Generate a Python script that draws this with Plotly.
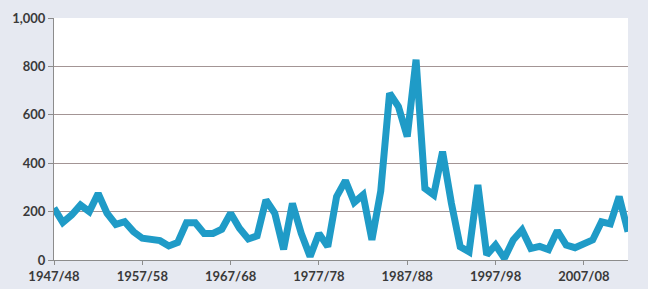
import plotly.graph_objects as go

years = [f"{y}/{str(y + 1)[-2:]}" for y in range(1947, 2013)]
values = [215, 155, 186, 227, 200, 275, 193, 147, 158, 117,
          90, 85, 80, 58, 72, 154, 154, 110, 110, 127,
          193, 131, 87, 100, 248, 193, 44, 234, 110, 14,
          110, 55, 262, 328, 238, 269, 83, 285, 689, 634,
          510, 828, 296, 269, 448, 235, 55, 34, 310, 21,
          62, 7, 83, 124, 48, 56, 43, 121, 62, 51,
          66, 83, 158, 149, 262, 117]
tick_labels = years[::10]
y_ticks = [0, 200, 400, 600, 800, 1000]

fig = go.Figure()
fig.add_trace(go.Scatter(
    x=years, y=values, mode="lines",
    line=dict(color="#1f9bc7", width=7),
    hoverinfo="skip",
))

tfont = dict(family="Lato, Carlito, Liberation Sans, sans-serif", size=13,
             color="#3a3a3a", weight="bold")

fig.update_layout(
    width=648, height=289,
    margin=dict(l=54, r=20, t=18, b=29, autoexpand=False),
    paper_bgcolor="#e6e9f1",
    plot_bgcolor="#ffffff",
    showlegend=False,
    xaxis=dict(
        type="category",
        range=[0, len(years) - 1],
        tickmode="array", tickvals=tick_labels, ticktext=tick_labels,
        ticks="outside", ticklen=4, tickcolor="#8c8c8c",
        showgrid=False, showline=True, linecolor="#8c8c8c", linewidth=1,
        tickfont=tfont, automargin=False,
        zeroline=False,
    ),
    yaxis=dict(
        range=[0, 1000],
        tickvals=y_ticks, tickformat=",d",
        ticks="outside", ticklen=5, tickcolor="#8c8c8c",
        showgrid=True, gridcolor="#a39595", gridwidth=1,
        showline=True, linecolor="#8c8c8c", linewidth=1,
        zeroline=False, automargin=False,
        tickfont=tfont,
    ),
)

fig.write_html(
    "out.html",
    config={"displayModeBar": False},
    post_script="document.body.style.margin='0';document.body.style.background='#e6e9f1';",
)
